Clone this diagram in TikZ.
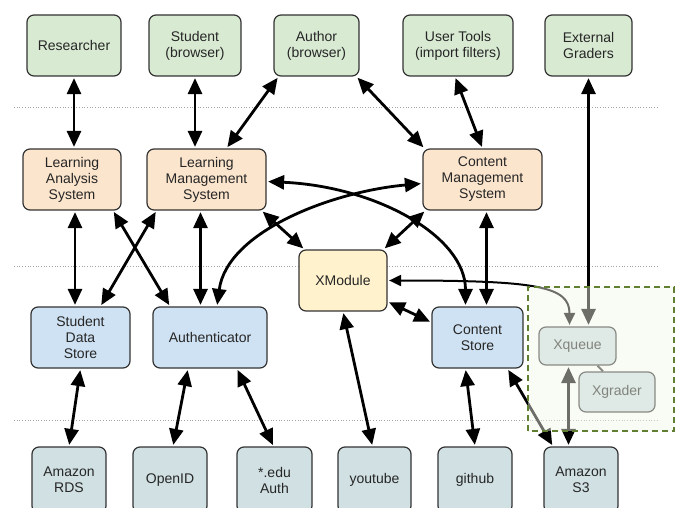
\documentclass[tikz,border=0pt]{standalone}
\usepackage{fontspec}
\setmainfont{Liberation Sans}
\usetikzlibrary{arrows.meta, calc}

\definecolor{usergreen}{HTML}{D9EAD3}
\definecolor{sysorange}{HTML}{FCE5CD}
\definecolor{modyellow}{HTML}{FFF2CC}
\definecolor{storeblue}{HTML}{CFE2F3}
\definecolor{extgray}{HTML}{D0E0E3}
\definecolor{boxline}{HTML}{333333}
\definecolor{graderedge}{HTML}{607F30}
\definecolor{graderfill}{HTML}{F2F6E8}

\begin{document}
\begin{tikzpicture}[x=1pt, y=1pt,
  every node/.style={font=\fontsize{14}{16}\selectfont, text=black!85},
  box/.style={draw=boxline, line width=1.2pt, rounded corners=7pt, align=center, inner sep=2pt, minimum height=61pt},
  link/.style={line width=2.8pt, <->, >={Triangle[length=16pt,width=14pt]}, shorten <=1.5pt, shorten >=1.5pt},
  tier/.style={gray!70, line width=0.7pt, dotted}]
  \useasboundingbox (0,0) rectangle (680,507);

  %% Tier separators
  \draw[tier] (14,400) -- (658,400);
  \draw[tier] (14,241) -- (658,241);
  \draw[tier] (14,87) -- (658,87);

  %% Users (top row)
  \node[box, fill=usergreen, minimum width=94pt] (researcher) at (74,461.5) {Researcher};
  \node[box, fill=usergreen, minimum width=92pt] (student) at (195,461.5) {Student\\(browser)};
  \node[box, fill=usergreen, minimum width=85pt] (author) at (316.5,461.5) {Author\\(browser)};
  \node[box, fill=usergreen, minimum width=110pt] (usertools) at (458,461.5) {User Tools\\(import filters)};
  \node[box, fill=usergreen, minimum width=87pt] (extgraders) at (588.5,461.5) {External\\Graders};

  %% Systems
  \node[box, fill=sysorange, minimum width=98pt] (las) at (72,327.5) {Learning\\Analysis\\System};
  \node[box, fill=sysorange, minimum width=119pt] (lms) at (206.5,327.5) {Learning\\Management\\System};
  \node[box, fill=sysorange, minimum width=119pt] (cms) at (482.5,327.5) {Content\\Management\\System};
  \node[box, fill=modyellow, minimum width=88pt] (xmodule) at (343,226.5) {XModule};

  %% Stores
  \node[box, fill=storeblue, minimum width=99pt] (sds) at (80.5,169.5) {Student\\Data\\Store};
  \node[box, fill=storeblue, minimum width=114pt] (auth) at (210,169.5) {Authenticator};
  \node[box, fill=storeblue, minimum width=91pt] (cstore) at (477.5,169.5) {Content\\Store};
  \node[box, fill=extgray, minimum width=77pt, minimum height=38pt] (xqueue) at (577.5,161) {Xqueue};
  \node[box, fill=extgray, minimum width=76pt, minimum height=40pt] (xgrader) at (617,115) {Xgrader};

  %% Outside services (bottom row)
  \node[box, fill=extgray, minimum width=74pt, minimum height=66pt] (rds) at (69,27) {Amazon\\RDS};
  \node[box, fill=extgray, minimum width=74pt, minimum height=66pt] (openid) at (170,27) {OpenID};
  \node[box, fill=extgray, minimum width=75pt, minimum height=66pt] (eduauth) at (274.5,27) {*.edu\\Auth};
  \node[box, fill=extgray, minimum width=73pt, minimum height=66pt] (youtube) at (374.5,27) {youtube};
  \node[box, fill=extgray, minimum width=74pt, minimum height=66pt] (github) at (475,27) {github};
  \node[box, fill=extgray, minimum width=74pt, minimum height=66pt] (s3) at (581,27) {Amazon\\S3};

  %% Users to systems
  \draw[link] (researcher.south) -- (researcher.south |- las.north);
  \draw[link] (student.south) -- (student.south |- lms.north);
  \draw[link] ([xshift=-38pt]author.south) -- ([xshift=20pt]lms.north);
  \draw[link] ([xshift=40pt]author.south) -- ([xshift=2pt]cms.north west);
  \draw[link] ([xshift=-3pt]usertools.south) -- (cms.north);
  \draw[link] (extgraders.south) -- (extgraders.south |- xqueue.north);

  %% Systems to stores
  \draw[link] ([xshift=3pt]las.south) -- ([xshift=3pt]las.south |- sds.north);
  \draw[link] ([xshift=41pt]las.south) -- ([xshift=-40pt]auth.north);
  \draw[link] ([xshift=-50pt]lms.south) -- ([xshift=20pt]sds.north);
  \draw[link] ([xshift=-6pt]lms.south) -- ([xshift=-6pt]lms.south |- auth.north);
  \draw[link] ([xshift=-5pt]lms.south east) -- ([xshift=6pt]xmodule.north west);
  \draw[link] ([yshift=-2pt]lms.east) .. controls +(110,-5) and +(0,70) .. ([xshift=-12pt]cstore.north);
  \draw[link] ([yshift=-4pt]cms.west) .. controls +(-90,-8) and +(10,75) .. ([xshift=7pt]auth.north);
  \draw[link] ([xshift=3pt]cms.south west) -- ([xshift=-4pt]xmodule.north east);
  \draw[link] ([xshift=4pt]cms.south) -- ([xshift=4pt]cms.south |- cstore.north);
  \draw[link] ([yshift=10pt]xmodule.south east) -- ([yshift=-16pt]cstore.north west);
  \draw[link, line width=2pt, >={Triangle[length=12pt,width=11pt]}] (xmodule.east) .. controls +(150,0) and +(0,40) .. ([xshift=-8pt]xqueue.north);

  %% Stores to outside services
  \draw[link] (sds.south) -- (rds.north);
  \draw[link] ([xshift=-22pt]auth.south) -- ([xshift=3pt]openid.north);
  \draw[link] ([xshift=27pt]auth.south) -- ([xshift=-1pt]eduauth.north);
  \draw[link] (xmodule.south) -- ([xshift=-2pt]youtube.north);
  \draw[link] ([xshift=-12pt]cstore.south) -- (github.north);
  \draw[link] ([xshift=30pt]cstore.south) -- ([xshift=-28pt]s3.north);
  \draw[link] ([xshift=-9pt]xqueue.south) -- ([xshift=-9pt]xqueue.south |- s3.north);
  \draw[boxline, line width=2pt] ([xshift=20pt]xqueue.south) -- ([xshift=-14pt]xgrader.north);

  %% Grader area (faded overlay)
  \fill[graderfill, opacity=0.45] (528,76) rectangle (674,220);
  \draw[graderedge, line width=1.5pt, dash pattern=on 6pt off 4pt] (528,76) rectangle (674,220);
\end{tikzpicture}
\end{document}
